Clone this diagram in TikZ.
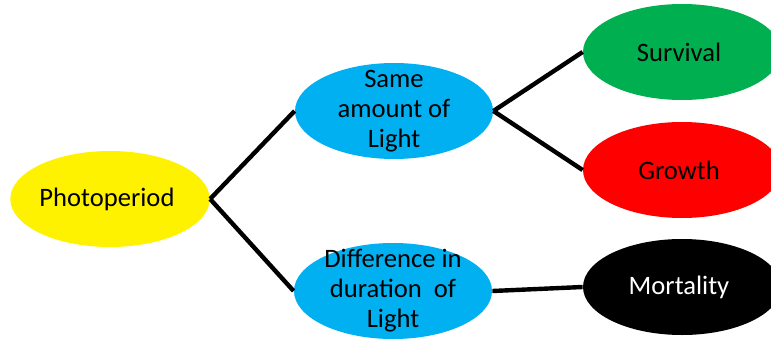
\documentclass[tikz,border=0pt]{standalone}
\usepackage{fontspec}
\setmainfont{Carlito}
\usetikzlibrary{shapes.geometric}

\begin{document}
\begin{tikzpicture}[x=0.5pt,y=-0.5pt,
  oval/.style={ellipse,inner sep=0pt,minimum width=99pt,minimum height=48pt,
    align=center,font=\fontsize{13.3}{15}\selectfont},
  tall/.style={oval,inner sep=-14pt},
  link/.style={line width=2.2pt}]
\useasboundingbox (0,0) rectangle (771,343);
\node[oval,fill=yellow] (photo) at (110,199) { Photoperiod };
\node[tall,fill={rgb,255:red,0;green,176;blue,240}] (same) at (394,111) { Same\\amount of\\Light };
\node[tall,fill={rgb,255:red,0;green,176;blue,240}] (diff) at (393,291) { Difference in\\duration\ \ of\\Light };
\node[oval,fill={rgb,255:red,0;green,176;blue,80}] (surv) at (682,52) { Survival };
\node[oval,fill=red] (grow) at (682,170) { Growth };
\node[oval,fill=black,text=white] (mort) at (682,287) { Mortality };
\draw[link] (photo.east)--(same.west);
\draw[link] (photo.east)--(diff.west);
\draw[link] (same.east)--(surv.west);
\draw[link] (same.east)--(grow.west);
\draw[link] (diff.east)--(mort.west);
\end{tikzpicture}
\end{document}
